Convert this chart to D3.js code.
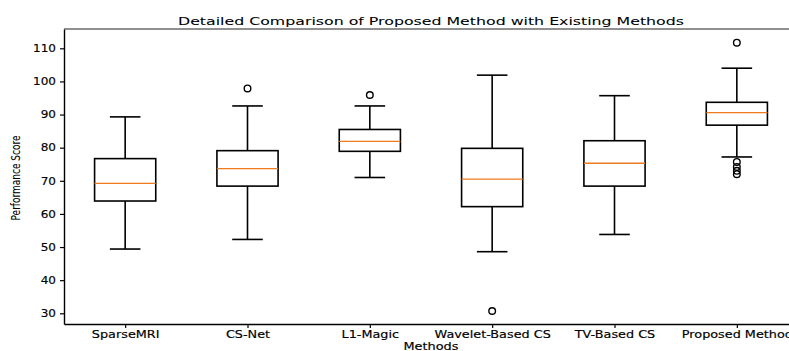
<!DOCTYPE html>
<html>
<head>
<meta charset="utf-8">
<script src="https://cdn.jsdelivr.net/npm/d3@7"></script>
<style>
  body { margin: 0; background: #fff; }
  text { font-family: "DejaVu Sans", sans-serif; fill: #000; stroke: #000; stroke-width: 0.15px; }
</style>
</head>
<body>
<svg width="789" height="351"></svg>
<script>
// box statistics
var methods = ["SparseMRI", "CS-Net", "L1-Magic", "Wavelet-Based CS", "TV-Based CS", "Proposed Method"];
var whiskerLow = [49.4, 52.3, 71.0, 48.6, 53.8, 77.2];
var q1 = [63.9, 68.4, 78.9, 62.2, 68.4, 86.8];
var median = [69.2, 73.7, 81.9, 70.5, 75.3, 90.6];
var q3 = [76.7, 79.1, 85.5, 79.8, 82.1, 93.7];
var whiskerHigh = [89.3, 92.6, 92.6, 101.9, 95.7, 104.0];
var outliers = [[], [97.9], [95.9], [30.7], [], [111.7, 75.7, 74.2, 73.0, 72.0]];
var yTicks = [30, 40, 50, 60, 70, 80, 90, 100, 110];

var svg = d3.select("svg");
var margin = {top: 29, left: 64, bottom: 27},
    plotRight = 798,
    height = 351;

var x = d3.scaleLinear().domain([0.5, methods.length + 0.5]).range([margin.left, plotRight]);
var y = d3.scaleLinear().domain([26.77, 115.83]).range([height - margin.bottom, margin.top]);

// horizontal stretch of text to match the wide look of the source
function stretch(sel, k) {
    sel.each(function() {
        var w = this.getComputedTextLength();
        d3.select(this).attr("textLength", w * k).attr("lengthAdjust", "spacingAndGlyphs");
    });
}

var data = methods.map(function(m, i) {
    return {name: m, pos: i + 1, lo: whiskerLow[i], q1: q1[i], med: median[i], q3: q3[i], hi: whiskerHigh[i], out: outliers[i]};
});

var halfBox = (x(1.25) - x(1)),
    halfCap = halfBox / 2,
    lw = 1.6;

var g = svg.selectAll(".box")
    .data(data)
    .enter()
    .append("g")
    .attr("class", "box");

// whiskers
g.append("line")
    .attr("x1", function(d) { return x(d.pos); })
    .attr("x2", function(d) { return x(d.pos); })
    .attr("y1", function(d) { return y(d.q1); })
    .attr("y2", function(d) { return y(d.lo); })
    .attr("stroke", "#000").attr("stroke-width", lw);
g.append("line")
    .attr("x1", function(d) { return x(d.pos); })
    .attr("x2", function(d) { return x(d.pos); })
    .attr("y1", function(d) { return y(d.q3); })
    .attr("y2", function(d) { return y(d.hi); })
    .attr("stroke", "#000").attr("stroke-width", lw);

// caps
["lo", "hi"].forEach(function(k) {
    g.append("line")
        .attr("x1", function(d) { return x(d.pos) - halfCap; })
        .attr("x2", function(d) { return x(d.pos) + halfCap; })
        .attr("y1", function(d) { return y(d[k]); })
        .attr("y2", function(d) { return y(d[k]); })
        .attr("stroke", "#000").attr("stroke-width", lw);
});

// boxes
g.append("rect")
    .attr("x", function(d) { return x(d.pos) - halfBox; })
    .attr("width", halfBox * 2)
    .attr("y", function(d) { return y(d.q3); })
    .attr("height", function(d) { return y(d.q1) - y(d.q3); })
    .attr("fill", "none")
    .attr("stroke", "#000").attr("stroke-width", lw);

// medians
g.append("line")
    .attr("x1", function(d) { return x(d.pos) - halfBox; })
    .attr("x2", function(d) { return x(d.pos) + halfBox; })
    .attr("y1", function(d) { return y(d.med); })
    .attr("y2", function(d) { return y(d.med); })
    .attr("stroke", "#f07a1e").attr("stroke-width", 1.3);

// fliers
g.selectAll(".flier")
    .data(function(d) { return d.out.map(function(v) { return {pos: d.pos, v: v}; }); })
    .enter()
    .append("circle")
    .attr("class", "flier")
    .attr("cx", function(d) { return x(d.pos); })
    .attr("cy", function(d) { return y(d.v); })
    .attr("r", 3.3)
    .attr("fill", "none")
    .attr("stroke", "#000").attr("stroke-width", 1.4);

// axes
var yAxis = svg.append("g")
    .attr("transform", "translate(" + margin.left + ",0)")
    .call(d3.axisLeft(y).tickValues(yTicks).tickSize(4).tickSizeOuter(0).tickPadding(4));
var xAxis = svg.append("g")
    .attr("transform", "translate(0," + (height - margin.bottom) + ")")
    .call(d3.axisBottom(x).tickValues(d3.range(1, methods.length + 1))
        .tickFormat(function(d) { return methods[d - 1]; }).tickSize(4).tickSizeOuter(0).tickPadding(3));

[yAxis, xAxis].forEach(function(a) {
    a.select(".domain").attr("stroke", "#000").attr("stroke-width", 1.4);
    a.selectAll(".tick line").attr("stroke", "#000").attr("stroke-width", 1.2);
    a.selectAll("text").style("font-size", "10px").attr("fill", "#000");
});
stretch(yAxis.selectAll(".tick text"), 1.2);
stretch(xAxis.selectAll(".tick text"), 1.28);

// top spine
svg.append("line")
    .attr("x1", margin.left).attr("x2", plotRight)
    .attr("y1", margin.top).attr("y2", margin.top)
    .attr("stroke", "#222").attr("stroke-width", 1.2);

// labels
svg.append("text")
    .attr("x", (margin.left + plotRight) / 2)
    .attr("y", 25)
    .attr("text-anchor", "middle")
    .style("font-size", "11px")
    .style("stroke-width", "0.05px")
    .attr("textLength", 506).attr("lengthAdjust", "spacingAndGlyphs")
    .text("Detailed Comparison of Proposed Method with Existing Methods");

svg.append("text")
    .attr("x", (margin.left + plotRight) / 2)
    .attr("y", 350)
    .attr("text-anchor", "middle")
    .style("font-size", "10px")
    .attr("textLength", 55).attr("lengthAdjust", "spacingAndGlyphs")
    .text("Methods");

svg.append("text")
    .attr("transform", "translate(20,178) rotate(-90)")
    .attr("text-anchor", "middle")
    .style("font-size", "12px")
    .style("stroke-width", "0.05px")
    .attr("textLength", 85).attr("lengthAdjust", "spacingAndGlyphs")
    .text("Performance Score");
</script>
</body>
</html>
